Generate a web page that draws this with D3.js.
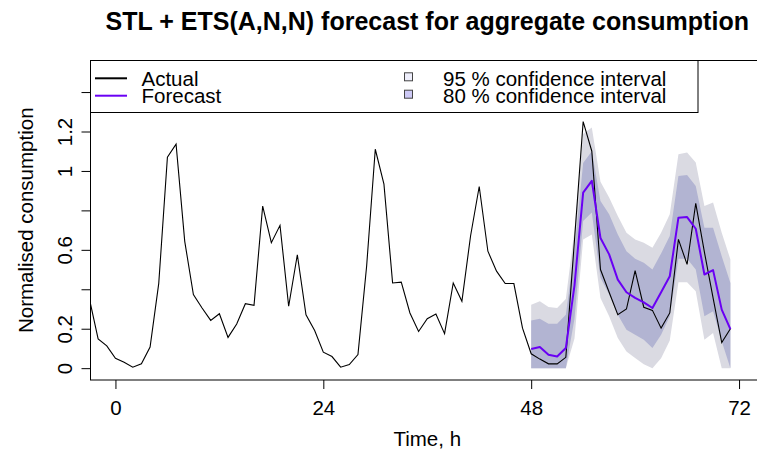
<!DOCTYPE html>
<html><head><meta charset="utf-8">
<script src="https://cdn.jsdelivr.net/npm/d3@7"></script>
<style>body{margin:0;background:#fff}svg{display:block}text{font-family:"Liberation Sans",Arial,Helvetica,sans-serif}</style>
</head><body><div id="chart"></div>
<script>
// ---- data ----
const actualStart = -3;
const actual = [0.35,0.148,0.113,0.05,0.03,0.005,0.022,0.107,0.43,1.07,1.136,0.643,0.373,0.305,0.242,0.276,0.156,0.224,0.327,0.319,
0.822,0.636,0.724,0.314,0.575,0.271,0.191,0.081,0.059,0.005,0.018,0.069,0.517,1.11,0.933,0.432,0.436,0.28,0.186,0.251,0.275,0.175,
0.432,0.339,0.67,0.921,0.593,0.492,0.429,0.429,0.203,0.073,0.046,0.022,0.022,0.055,0.65,1.25,1.10,0.5,0.385,0.271,0.30,0.495,0.309,
0.293,0.203,0.28,0.653,0.526,0.836,0.588,0.356,0.13,0.2];
const forecastStart = 48;
const forecastMean = [0.097,0.107,0.068,0.059,0.102,0.42,0.89,0.95,0.66,0.577,0.449,0.385,0.356,0.334,0.305,0.385,0.466,0.763,0.766,0.707,0.475,0.497,0.297,0.198];
const hi80 = [0.242,0.25,0.225,0.225,0.271,0.6,1.04,1.10,0.848,0.78,0.678,0.593,0.555,0.534,0.5,0.582,0.67,0.975,0.979,0.924,0.712,0.712,0.568,0.432];
const lo80 = [0,0,0,0,0,0.25,0.746,0.789,0.458,0.373,0.271,0.195,0.169,0.144,0.102,0.17,0.263,0.555,0.555,0.5,0.263,0.288,0.136,0];
const hi95 = [0.322,0.339,0.31,0.305,0.351,0.7,1.187,1.22,0.945,0.865,0.772,0.687,0.653,0.636,0.611,0.687,0.78,1.085,1.094,1.043,0.822,0.84,0.687,0.551];
const lo95 = [0,0,0,0,0,0.15,0.653,0.678,0.356,0.263,0.153,0.085,0.051,0.02,0,0.05,0.14,0.436,0.436,0.39,0.144,0.178,0,0];
const xTicks = [0,24,48,72];
const yTicks = [0,0.2,0.4,0.6,0.8,1.0,1.2,1.4];
const yTickLabels = ["0","0.2","","0.6","","1","1.2",""];
const legendLines = ["Actual","Forecast"];
const legendFills = ["95 % confidence interval","80 % confidence interval"];
const titleText = "STL + ETS(A,N,N) forecast for aggregate consumption";
const xTitle = "Time, h";
const yTitle = "Normalised consumption";

// ---- layout ----
const W = 757, H = 459;
const L = 90.5, R = 764, T = 60.5, B = 380;
const FS = 20.5;
const x = d3.scaleLinear().domain([-2.88, 74.88]).range([L, R]);
const y = d3.scaleLinear().domain([-0.06, 1.56]).range([B, T]);

const svg = d3.select("#chart").append("svg").attr("width", W).attr("height", H);
svg.append("defs").append("clipPath").attr("id","clip")
  .append("rect").attr("x",L).attr("y",T).attr("width",R-L).attr("height",B-T);

const plot = svg.append("g").attr("clip-path","url(#clip)");
const fc = forecastMean.map((m,i)=>({h:forecastStart+i,m,hi80:hi80[i],lo80:lo80[i],hi95:hi95[i],lo95:lo95[i]}));
plot.append("path").datum(fc).attr("fill","#dadae2")
  .attr("d", d3.area().x(d=>x(d.h)).y0(d=>y(d.lo95)).y1(d=>y(d.hi95)));
plot.append("path").datum(fc).attr("fill","#b2b4d2")
  .attr("d", d3.area().x(d=>x(d.h)).y0(d=>y(d.lo80)).y1(d=>y(d.hi80)));
const act = actual.map((v,i)=>({h:actualStart+i,v}));
plot.append("path").datum(act).attr("fill","none").attr("stroke","#000").attr("stroke-width",1.1)
  .attr("d", d3.line().x(d=>x(d.h)).y(d=>y(d.v)));
plot.append("path").datum(fc).attr("fill","none").attr("stroke","#6a00f4").attr("stroke-width",2)
  .attr("stroke-linejoin","round")
  .attr("d", d3.line().x(d=>x(d.h)).y(d=>y(d.m)));

// axes
const xa = svg.append("g").attr("transform",`translate(0,${B})`)
  .call(d3.axisBottom(x).tickValues(xTicks).tickSize(9).tickPadding(10).tickFormat(d3.format("d")));
xa.select(".domain").remove();
xa.selectAll("text").attr("font-size",FS).attr("fill","#000").attr("dy","0.71em").attr("y",20.5);
xa.selectAll("line").attr("stroke","#000");

const ya = svg.append("g").attr("transform",`translate(${L},0)`)
  .call(d3.axisLeft(y).tickValues(yTicks).tickSize(9).tickFormat((d,i)=>yTickLabels[i]));
ya.select(".domain").remove();
ya.selectAll("line").attr("stroke","#000");
ya.selectAll("text").attr("font-size",FS).attr("fill","#000")
  .attr("x",null).attr("dy",null).attr("text-anchor","middle")
  .attr("transform","translate(-18.5,0) rotate(-90)");

// box
svg.append("rect").attr("x",L).attr("y",T).attr("width",R-L).attr("height",B-T)
  .attr("fill","none").attr("stroke","#000").attr("stroke-width",1);

// titles
svg.append("text").attr("x",(L+R)/2).attr("y",30).attr("text-anchor","middle")
  .attr("font-size",25).attr("font-weight","bold").text(titleText);
svg.append("text").attr("x",(L+R)/2).attr("y",446).attr("text-anchor","middle")
  .attr("font-size",FS).text(xTitle);
svg.append("text").attr("transform",`translate(33,${(T+B)/2}) rotate(-90)`).attr("text-anchor","middle")
  .attr("font-size",FS).text(yTitle);

// legend
const lg = svg.append("g");
lg.append("rect").attr("x",L).attr("y",T).attr("width",698-L).attr("height",112.5-T)
  .attr("fill","#fff").attr("stroke","#000").attr("stroke-width",1);
const rowY = [78.3, 95.7];
const lineCols = ["#000","#6a00f4"];
legendLines.forEach((t,i)=>{
  lg.append("line").attr("x1",95).attr("x2",127).attr("y1",rowY[i]).attr("y2",rowY[i])
    .attr("stroke",lineCols[i]).attr("stroke-width",2);
  lg.append("text").attr("x",141.5).attr("y",rowY[i]+7.3).attr("font-size",FS).text(t);
});
const sqCols = ["#eeeefb","#cdc9f5"];
legendFills.forEach((t,i)=>{
  lg.append("rect").attr("x",404.5).attr("y",rowY[i]-5.5).attr("width",8).attr("height",8)
    .attr("fill",sqCols[i]).attr("stroke","#444").attr("stroke-width",1);
  lg.append("text").attr("x",443).attr("y",rowY[i]+7.3).attr("font-size",FS).text(t);
});
</script></body></html>
